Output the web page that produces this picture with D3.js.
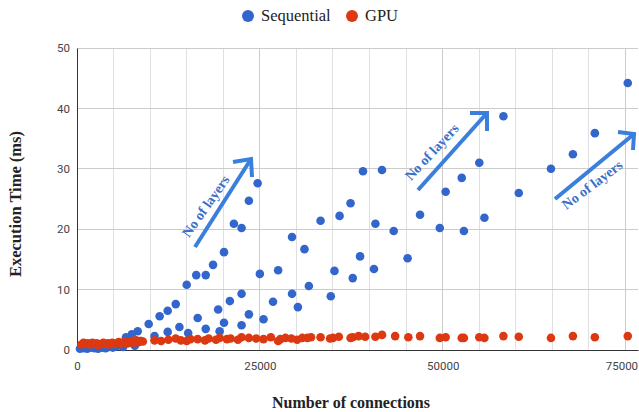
<!DOCTYPE html>
<html><head><meta charset="utf-8">
<script src="https://cdn.jsdelivr.net/npm/d3@7"></script>
<style>body{margin:0;background:#fff}svg{display:block}</style>
</head><body>
<svg id="c" width="639" height="412"></svg>
<script>
const seriesNames = ["Sequential", "GPU"];
const seriesColors = ["#3366cc", "#dc3912"];
const xTicks = [0, 25000, 50000, 75000];
const yTicks = [0, 10, 20, 30, 40, 50];
const sequentialX = [400,900,1400,1900,2400,2900,3400,3900,4400,4900,5400,5900,6300,6700,7100,7500,7900,8300,8700,9800,10600,11300,12400,12400,13500,14000,15000,15200,16300,16500,17600,17600,18600,19300,19500,20100,20100,20900,21450,22500,22500,22500,23500,23500,24700,25000,25500,26800,27500,29400,29400,30200,31100,31700,33300,34700,35200,35900,37400,37700,38700,39100,40600,40800,41700,43300,45200,46900,49600,50400,52600,52900,55000,55700,58300,60400,64800,67800,70800,75300];
const sequentialY = [0.2,0.3,0.2,0.4,0.3,0.2,0.4,0.3,0.5,0.4,0.6,0.9,0.5,2.1,1.2,2.6,0.7,3.1,1.5,4.3,2.3,5.6,6.5,3.0,7.6,3.8,10.8,2.8,12.4,5.3,12.4,3.5,14.1,6.7,3.1,16.2,4.5,8.1,20.9,20.2,9.3,4.1,24.7,5.9,27.6,12.6,5.1,8.0,13.2,18.7,9.3,7.1,16.7,10.6,21.4,8.9,13.1,22.2,24.3,11.9,15.5,29.6,13.4,20.9,29.8,19.7,15.2,22.4,20.2,26.2,28.5,19.7,31.0,21.9,38.7,26.0,30.0,32.4,35.9,44.2];
const gpuX = [600,900,1200,1500,1800,2100,2400,2700,3000,3300,3600,3900,4200,4500,4800,5100,5400,5700,6000,6300,6600,6900,7200,7500,7800,8100,8400,8700,9000,10600,11500,12500,13500,14200,15000,15500,16500,17500,18000,19000,19500,20500,21000,22000,22500,23500,24500,25500,26500,27500,27800,28500,29300,30100,30800,31500,32000,33300,34600,35000,35800,37400,37700,38500,39400,40800,41700,43500,45300,46900,49600,50400,52600,52900,55000,55700,58300,60400,64800,67800,70800,75300];
const gpuY = [0.9,1.2,1.0,1.1,0.9,1.2,1.0,1.1,0.8,1.0,1.2,1.0,1.1,0.9,1.2,1.0,1.1,1.3,1.0,1.2,1.4,1.1,1.3,1.5,1.2,1.6,1.3,1.5,1.4,1.6,1.5,1.7,1.9,1.6,1.5,1.8,1.8,1.6,1.9,1.7,2.0,1.8,1.9,1.7,2.1,2.0,1.9,1.8,2.1,1.5,1.8,2.0,1.9,1.7,2.0,2.0,2.1,2.1,1.9,2.0,2.2,2.0,2.1,2.3,2.2,2.2,2.5,2.3,2.1,2.3,2.0,2.1,2.0,2.0,2.1,2.0,2.3,2.2,2.0,2.3,2.1,2.3];
const annotationText = "No of layers";

const svg = d3.select("#c");
const x = d3.scaleLinear().domain([0, 76700]).range([77, 638]);
const y = d3.scaleLinear().domain([0, 50]).range([350, 48]);

// gridlines
const vgrid = d3.range(5000, 76000, 5000);
svg.append("g").selectAll("line").data(vgrid).join("line")
  .attr("x1", d => x(d)).attr("x2", d => x(d)).attr("y1", y(50)).attr("y2", y(0))
  .attr("stroke", d => d % 25000 === 0 ? "#cccccc" : "#e0e0e0").attr("stroke-width", 1).attr("shape-rendering","crispEdges");
svg.append("g").selectAll("line").data(yTicks.slice(1)).join("line")
  .attr("x1", 77).attr("x2", 638).attr("y1", d => y(d)).attr("y2", d => y(d))
  .attr("stroke", "#cccccc").attr("shape-rendering","crispEdges");

// axes
const yAxis = d3.axisLeft(y).tickValues(yTicks).tickSize(0).tickPadding(7);
const gy = svg.append("g").attr("transform", "translate(77,0)").call(yAxis);
gy.select(".domain").attr("stroke", "#333");
gy.selectAll("text").attr("font-family", "Roboto, Arial, sans-serif").attr("font-size", 11.5).attr("fill", "#444");
const xAxis = d3.axisBottom(x).tickValues(xTicks).tickSize(0).tickPadding(12).tickFormat(d3.format("d"));
const gx = svg.append("g").attr("transform", "translate(0,350)").call(xAxis);
gx.select(".domain").attr("stroke", "#333");
gx.selectAll("text").attr("font-family", "Roboto, Arial, sans-serif").attr("font-size", 11.5).attr("fill", "#444");
gx.selectAll(".tick").filter(d => d === 75000).select("text").attr("text-anchor", "end").attr("dx", "12");

// points
const seq = sequentialX.map((v, i) => [v, sequentialY[i]]);
const gpu = gpuX.map((v, i) => [v, gpuY[i]]);
svg.append("g").selectAll("circle").data(seq).join("circle")
  .attr("cx", d => x(d[0])).attr("cy", d => y(d[1])).attr("r", 4.3).attr("fill", seriesColors[0]);
svg.append("g").selectAll("circle").data(gpu).join("circle")
  .attr("cx", d => x(d[0])).attr("cy", d => y(d[1])).attr("r", 4.3).attr("fill", seriesColors[1]);

// annotations
const arrows = [
  {x1:195,y1:247,x2:251,y2:159, a1:[233,162], a2:[252,177], tx:207, ty:207, rot:-55},
  {x1:418,y1:190,x2:487,y2:113, a1:[470,113], a2:[487,131], tx:433, ty:153, rot:-47},
  {x1:555,y1:199,x2:634,y2:134, a1:[618,132], a2:[633,150], tx:593, ty:186, rot:-37}
];
const ag = svg.append("g");
arrows.forEach(a => {
  ag.append("line").attr("x1",a.x1).attr("y1",a.y1).attr("x2",a.x2).attr("y2",a.y2)
    .attr("stroke","#3b7fdc").attr("stroke-width",4);
  ag.append("polyline").attr("points",[a.a1,[a.x2,a.y2],a.a2].map(p=>p.join(",")).join(" "))
    .attr("fill","none").attr("stroke","#3b7fdc").attr("stroke-width",4).attr("stroke-linejoin","miter");
  ag.append("text").attr("transform",`translate(${a.tx},${a.ty}) rotate(${a.rot})`)
    .attr("text-anchor","middle").attr("dominant-baseline","middle")
    .attr("font-family","'Liberation Serif', 'DejaVu Serif', serif").attr("font-weight","bold").attr("font-size",14)
    .attr("fill","#3a6fc8").text(annotationText);
});

// legend
const leg = svg.append("g");
const legX = [248, 352];
seriesNames.forEach((n, i) => {
  leg.append("circle").attr("cx", legX[i]).attr("cy", 16).attr("r", 6).attr("fill", seriesColors[i]);
  leg.append("text").attr("x", legX[i] + 13).attr("y", 21).attr("font-family","'Liberation Serif', serif")
    .attr("font-size", 16.5).attr("fill","#222").text(n);
});

// axis titles
svg.append("text").attr("transform","translate(21,204) rotate(-90)").attr("text-anchor","middle")
  .attr("font-family","'Liberation Serif', serif").attr("font-weight","bold").attr("font-size",16.5).attr("fill","#222")
  .text("Execution Time (ms)");
svg.append("text").attr("x",351).attr("y",408).attr("text-anchor","middle")
  .attr("font-family","'Liberation Serif', serif").attr("font-weight","bold").attr("font-size",16).attr("fill","#222")
  .text("Number of connections");
</script>
</body></html>
